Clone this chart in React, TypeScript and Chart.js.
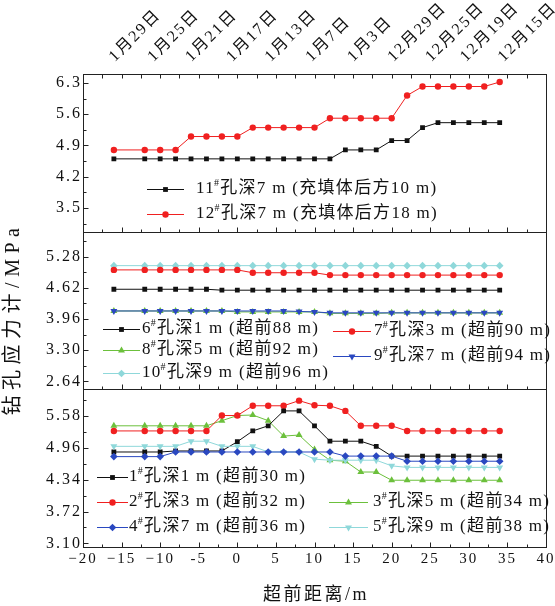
import React, { useEffect, useRef } from 'react';
import { Chart, registerables } from 'chart.js';
import { drawPoint } from 'chart.js/helpers';

Chart.register(...registerables);

// ---------- data ----------
const distances = [-16, -12, -10, -8, -6, -4, -2, 0, 2, 4, 6, 8, 10, 12, 14, 16, 18, 20, 22, 24, 26, 28, 30, 32, 34];

const dateLabels = ['1月29日', '1月25日', '1月21日', '1月17日', '1月13日', '1月7日', '1月3日', '12月29日', '12月25日', '12月19日', '12月15日'];
const datePositions = [-14.5, -9.5, -4.6, 0.7, 5.7, 11.0, 16.4, 21.6, 26.5, 31.0, 35.9];

const topTickLabels = ['3.5', '4.2', '4.9', '5.6', '6.3'];
const midTickLabels = ['2.64', '3.30', '3.96', '4.62', '5.28'];
const botTickLabels = ['3.10', '3.72', '4.34', '4.96', '5.58'];
const topRange = [2.97, 6.5];
const midRange = [2.47, 5.81];
const botRange = [3.03, 6.1];

// top panel
const hole11 = [4.6, 4.6, 4.6, 4.6, 4.6, 4.6, 4.6, 4.6, 4.6, 4.6, 4.6, 4.6, 4.6, 4.6, 4.8, 4.8, 4.8, 5.01, 5.01, 5.3, 5.41, 5.41, 5.41, 5.41, 5.41];
const hole12 = [4.8, 4.8, 4.8, 4.8, 5.1, 5.1, 5.1, 5.1, 5.3, 5.3, 5.3, 5.3, 5.3, 5.51, 5.51, 5.51, 5.51, 5.51, 6.02, 6.22, 6.22, 6.22, 6.22, 6.22, 6.32];
// middle panel
const hole6 = [4.59, 4.59, 4.59, 4.59, 4.59, 4.59, 4.57, 4.57, 4.57, 4.57, 4.57, 4.57, 4.57, 4.57, 4.57, 4.57, 4.57, 4.57, 4.57, 4.57, 4.57, 4.57, 4.57, 4.57, 4.57];
const hole7 = [5.0, 5.0, 5.0, 5.0, 5.0, 5.0, 5.0, 5.0, 4.94, 4.94, 4.94, 4.94, 4.94, 4.89, 4.89, 4.89, 4.89, 4.89, 4.89, 4.89, 4.89, 4.89, 4.89, 4.89, 4.89];
const hole8 = [4.13, 4.13, 4.13, 4.13, 4.13, 4.13, 4.13, 4.11, 4.11, 4.11, 4.11, 4.11, 4.11, 4.08, 4.08, 4.08, 4.08, 4.09, 4.09, 4.09, 4.09, 4.09, 4.09, 4.09, 4.09];
const hole9 = [4.13, 4.13, 4.13, 4.13, 4.13, 4.13, 4.13, 4.13, 4.13, 4.13, 4.13, 4.12, 4.11, 4.09, 4.09, 4.09, 4.09, 4.09, 4.09, 4.09, 4.09, 4.09, 4.09, 4.09, 4.09];
const hole10 = [5.09, 5.09, 5.09, 5.09, 5.09, 5.09, 5.09, 5.09, 5.09, 5.09, 5.09, 5.09, 5.09, 5.09, 5.09, 5.09, 5.09, 5.09, 5.09, 5.09, 5.09, 5.09, 5.09, 5.09, 5.09];
// bottom panel
const hole1 = [4.88, 4.88, 4.88, 4.9, 4.9, 4.9, 4.9, 5.08, 5.29, 5.39, 5.68, 5.68, 5.39, 5.09, 5.09, 5.09, 4.99, 4.8, 4.8, 4.8, 4.8, 4.8, 4.8, 4.8, 4.8];
const hole2 = [5.29, 5.29, 5.29, 5.29, 5.29, 5.29, 5.59, 5.59, 5.78, 5.78, 5.78, 5.88, 5.79, 5.78, 5.68, 5.39, 5.39, 5.39, 5.29, 5.29, 5.29, 5.29, 5.29, 5.29, 5.29];
const hole3 = [5.39, 5.39, 5.39, 5.39, 5.39, 5.39, 5.49, 5.59, 5.6, 5.49, 5.19, 5.21, 4.93, 4.72, 4.7, 4.49, 4.49, 4.33, 4.33, 4.33, 4.33, 4.33, 4.33, 4.33, 4.33];
const hole4 = [4.79, 4.79, 4.79, 4.88, 4.88, 4.88, 4.88, 4.88, 4.88, 4.88, 4.88, 4.88, 4.88, 4.88, 4.8, 4.8, 4.8, 4.8, 4.7, 4.7, 4.7, 4.7, 4.7, 4.7, 4.7];
const hole5 = [4.99, 4.99, 4.99, 4.99, 5.09, 5.09, 4.99, 4.99, 4.99, 4.88, 4.88, 4.88, 4.74, 4.72, 4.72, 4.72, 4.72, 4.61, 4.58, 4.58, 4.58, 4.58, 4.58, 4.58, 4.58];

const seriesLabels = {
  h11: '11#孔深7 m (充填体后方10 m)',
  h12: '12#孔深7 m (充填体后方18 m)',
  h6: '6#孔深1 m (超前88 m)',
  h7: '7#孔深3 m (超前90 m)',
  h8: '8#孔深5 m (超前92 m)',
  h9: '9#孔深7 m (超前94 m)',
  h10: '10#孔深9 m (超前96 m)',
  h1: '1#孔深1 m (超前30 m)',
  h2: '2#孔深3 m (超前32 m)',
  h3: '3#孔深5 m (超前34 m)',
  h4: '4#孔深7 m (超前36 m)',
  h5: '5#孔深9 m (超前38 m)',
};

// ---------- styles ----------
const BLACK = '#111111';
const RED = '#f02020';
const GREEN = '#6cc03c';
const BLUE = '#2a48c0';
const CYAN = '#8fd8da';
const SERIF = '"Liberation Serif", "Times New Roman", "Noto Sans CJK SC", serif';

type Sty = { color: string; style: string; r: number; rot: number };
const styles: Record<string, Sty> = {
  h11: { color: BLACK, style: 'rect', r: 3.4, rot: 0 },
  h12: { color: RED, style: 'circle', r: 3.2, rot: 0 },
  h6: { color: BLACK, style: 'rect', r: 3.4, rot: 0 },
  h7: { color: RED, style: 'circle', r: 3.2, rot: 0 },
  h8: { color: GREEN, style: 'triangle', r: 4, rot: 0 },
  h9: { color: BLUE, style: 'triangle', r: 4, rot: 180 },
  h10: { color: CYAN, style: 'rectRot', r: 3.8, rot: 0 },
  h1: { color: BLACK, style: 'rect', r: 3.4, rot: 0 },
  h2: { color: RED, style: 'circle', r: 3.2, rot: 0 },
  h3: { color: GREEN, style: 'triangle', r: 4, rot: 0 },
  h4: { color: BLUE, style: 'rectRot', r: 3.8, rot: 0 },
  h5: { color: CYAN, style: 'triangle', r: 4, rot: 180 },
};

function ds(key: string, values: number[], yAxisID: string, order: number) {
  const s = styles[key];
  return {
    label: key,
    data: distances.map((x, i) => ({ x, y: values[i] })),
    xAxisID: 'x',
    yAxisID,
    borderColor: s.color,
    backgroundColor: s.color,
    pointBackgroundColor: s.color,
    pointBorderColor: s.color,
    pointBorderWidth: 0,
    pointRadius: s.r,
    pointStyle: s.style,
    pointRotation: s.rot,
    borderWidth: 1,
    tension: 0,
    order,
  };
}

// legend layout: [key, lineStart, lineEnd, textX, y]
const legendLayout: [string, number, number, number, number][] = [
  ['h11', 147, 184, 196, 189],
  ['h12', 147, 184, 196, 214],
  ['h6', 103, 140, 142, 329],
  ['h8', 103, 140, 142, 350],
  ['h10', 103, 140, 142, 373],
  ['h7', 333, 371, 374, 331],
  ['h9', 333, 371, 374, 356],
  ['h1', 97, 128, 129, 477],
  ['h2', 97, 128, 129, 502],
  ['h4', 97, 128, 129, 527],
  ['h3', 329, 368, 373, 502],
  ['h5', 329, 368, 373, 527],
];

function drawLabel(ctx: CanvasRenderingContext2D, text: string, x: number, y: number, size: number) {
  const [num, rest] = text.split('#');
  ctx.font = `${size}px ${SERIF}`;
  ctx.textAlign = 'left';
  ctx.textBaseline = 'middle';
  ctx.fillText(num, x, y);
  let w = ctx.measureText(num).width;
  ctx.font = `${Math.round(size * 0.6)}px ${SERIF}`;
  ctx.fillText('#', x + w - 1, y - size * 0.32);
  w += ctx.measureText('#').width - 1;
  ctx.font = `${size}px ${SERIF}`;
  ctx.fillText(rest, x + w, y);
}

const panelsPlugin = {
  id: 'panels',
  beforeDraw(chart: any) {
    const ctx = chart.ctx;
    ctx.save();
    ctx.fillStyle = '#ffffff';
    ctx.fillRect(0, 0, chart.width, chart.height);
    ctx.restore();
    (ctx as any).letterSpacing = '2px';
  },
  afterDraw(chart: any) {
    const ctx: CanvasRenderingContext2D = chart.ctx;
    const ca = chart.chartArea;
    const xs = chart.scales.x;
    ctx.save();
    (ctx as any).letterSpacing = '0px';
    ctx.strokeStyle = '#222';
    ctx.lineWidth = 1;
    const left = Math.round(ca.left) + 0.5;
    const right = Math.round(ca.right) + 0.5;
    ['yTop', 'yMid', 'yBot'].forEach((id) => {
      const s = chart.scales[id];
      const top = Math.round(s.top) + 0.5;
      const bottom = Math.round(s.bottom) + 0.5;
      ctx.strokeRect(left, top, right - left, bottom - top);
      const vals = s.ticks.map((t: any) => t.value);
      const step = vals[1] - vals[0];
      ctx.beginPath();
      for (let k = -4; k <= 20; k++) {
        const v = vals[0] + (k * step) / 2;
        if (v < s.min - 1e-9 || v > s.max + 1e-9) continue;
        const py = Math.round(s.getPixelForValue(v)) + 0.5;
        ctx.moveTo(left, py);
        ctx.lineTo(left + (k % 2 === 0 ? 5 : 3), py);
      }
      for (let k = 0; k <= 24; k++) {
        const v = -20 + k * 2.5;
        const px = Math.round(xs.getPixelForValue(v)) + 0.5;
        ctx.moveTo(px, bottom);
        ctx.lineTo(px, bottom - (k % 2 === 0 ? 5 : 3));
      }
      if (id === 'yTop') {
        for (let k = 0; k <= 24; k++) {
          const v = -20 + k * 2.5;
          const px = Math.round(xs.getPixelForValue(v)) + 0.5;
          ctx.moveTo(px, top);
          ctx.lineTo(px, top + 4);
        }
      }
      ctx.stroke();
    });

    // legends
    (ctx as any).letterSpacing = '1.3px';
    legendLayout.forEach(([key, x0, x1, tx, y]) => {
      const s = styles[key];
      ctx.strokeStyle = s.color;
      ctx.fillStyle = s.color;
      ctx.lineWidth = 1;
      ctx.beginPath();
      ctx.moveTo(x0, y + 0.5);
      ctx.lineTo(x1, y + 0.5);
      ctx.stroke();
      drawPoint(ctx, { pointStyle: s.style as any, radius: s.r, rotation: s.rot, borderWidth: 0 } as any, (x0 + x1) / 2, y + 0.5);
      ctx.fillStyle = '#111';
      drawLabel(ctx, (seriesLabels as any)[key], tx, y, 17);
    });

    // axis titles
    ctx.fillStyle = '#111';
    ctx.textAlign = 'center';
    ctx.textBaseline = 'middle';
    (ctx as any).letterSpacing = '2.5px';
    ctx.font = `18px ${SERIF}`;
    ctx.fillText('超前距离/m', 316, 595);
    ctx.save();
    ctx.translate(14, 319);
    ctx.rotate(-Math.PI / 2);
    (ctx as any).letterSpacing = '5.5px';
    ctx.font = `20px ${SERIF}`;
    ctx.fillText('钻孔应力计/MPa', 0, 0);
    ctx.restore();
    ctx.restore();
  },
};

function yScale(labels: string[], range: number[]) {
  return {
    type: 'linear',
    position: 'left',
    stack: 'panels',
    stackWeight: 1,
    min: range[0],
    max: range[1],
    afterBuildTicks: (s: any) => {
      s.ticks = labels.map((l) => ({ value: parseFloat(l) }));
    },
    afterFit: (s: any) => {
      s.width = 83;
      s.paddingTop = 0;
      s.paddingBottom = 0;
    },
    ticks: {
      color: '#111',
      padding: 1,
      font: { family: SERIF, size: 16 },
      callback: (v: number) => {
        const idx = labels.findIndex((l) => Math.abs(parseFloat(l) - v) < 1e-6);
        return idx >= 0 ? labels[idx] : '';
      },
    },
    grid: { display: false, drawTicks: false },
    border: { display: false },
  };
}

export default function App() {
  const ref = useRef<HTMLCanvasElement>(null);
  useEffect(() => {
    const chart = new Chart(ref.current as HTMLCanvasElement, {
      type: 'line',
      data: {
        datasets: [
          ds('h11', hole11, 'yTop', 1),
          ds('h12', hole12, 'yTop', 0),
          ds('h6', hole6, 'yMid', 2),
          ds('h7', hole7, 'yMid', 2),
          ds('h8', hole8, 'yMid', 1),
          ds('h9', hole9, 'yMid', 0),
          ds('h10', hole10, 'yMid', 2),
          ds('h1', hole1, 'yBot', 2),
          ds('h2', hole2, 'yBot', 2),
          ds('h3', hole3, 'yBot', 4),
          ds('h4', hole4, 'yBot', 0),
          ds('h5', hole5, 'yBot', 1),
        ] as any,
      },
      options: {
        responsive: false,
        animation: false,
        layout: { padding: { left: 0, right: 9, top: 0, bottom: 0 } },
        plugins: { legend: { display: false }, tooltip: { enabled: false } },
        scales: {
          x: {
            type: 'linear',
            position: 'bottom',
            min: -20,
            max: 40,
            ticks: {
              stepSize: 5,
              color: '#111',
              padding: 3,
              font: { family: SERIF, size: 15 },
              callback: (v: any) => (v === -5 ? '-5' : v < 0 ? '\u2212' + -v : String(v)),
            },
            grid: { display: false, drawTicks: false },
            border: { display: false },
            afterFit: (s: any) => {
              s.height = 59;
              s.paddingLeft = 0;
              s.paddingRight = 0;
            },
          },
          x2: {
            type: 'linear',
            position: 'top',
            min: -20,
            max: 40,
            afterBuildTicks: (s: any) => {
              s.ticks = datePositions.map((v) => ({ value: v }));
            },
            ticks: {
              autoSkip: false,
              minRotation: 45,
              maxRotation: 45,
              color: '#111',
              padding: 8,
              font: { family: SERIF, size: 16 },
              callback: (_v: any, i: number) => dateLabels[i],
            },
            grid: { display: false, drawTicks: false },
            border: { display: false },
            afterFit: (s: any) => {
              s.height = 74;
              s.paddingLeft = 0;
              s.paddingRight = 0;
            },
          },
          // stacked left axes: later-defined axes are placed higher
          yBot: yScale(botTickLabels, botRange),
          yMid: yScale(midTickLabels, midRange),
          yTop: yScale(topTickLabels, topRange),
        } as any,
      },
      plugins: [panelsPlugin as any],
    });
    return () => chart.destroy();
  }, []);
  return (
    <div style={{ position: 'absolute', left: 0, top: 0, width: 555, height: 606, background: '#fff' }}>
      <canvas ref={ref} width={555} height={606} style={{ display: 'block', width: 555, height: 606 }} />
    </div>
  );
}
